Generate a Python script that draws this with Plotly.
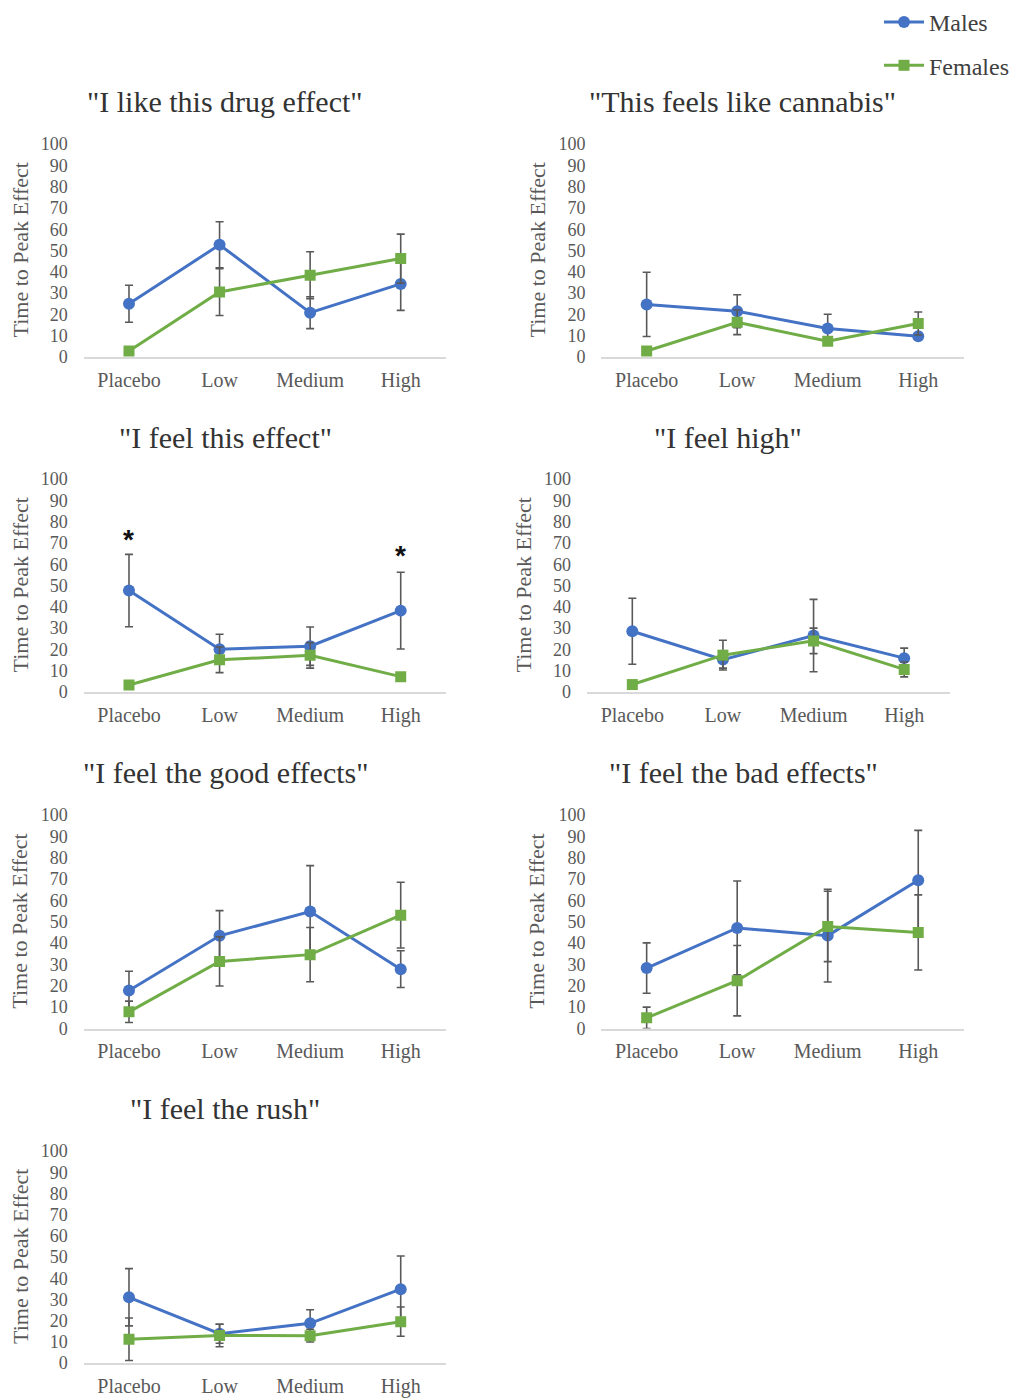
import plotly.graph_objects as go

# Dose conditions shared by every panel
categories = ["Placebo", "Low", "Medium", "High"]
y_ticks = list(range(0, 101, 10))

# Time to peak effect (means) and error bar half-widths, per subjective item
like_drug_m = [25.0, 52.7, 20.8, 34.3]
like_drug_m_err = [8.7, 10.8, 7.5, 12.4]
like_drug_f = [2.8, 30.5, 38.4, 46.2]
like_drug_f_err = [0.0, 11.0, 11.0, 11.5]

cannabis_m = [24.7, 21.5, 13.4, 9.7]
cannabis_m_err = [15.1, 7.7, 6.7, 0.0]
cannabis_f = [2.8, 16.3, 7.4, 15.7]
cannabis_f_err = [0.0, 5.8, 0.0, 5.4]

this_effect_m = [47.6, 20.1, 21.5, 38.2]
this_effect_m_err = [17.0, 7.0, 9.0, 18.0]
this_effect_f = [3.3, 15.1, 17.2, 7.2]
this_effect_f_err = [0.0, 6.0, 6.0, 0.0]

high_m = [28.5, 15.2, 26.5, 15.9]
high_m_err = [15.5, 4.0, 17.0, 4.7]
high_f = [3.5, 17.3, 24.0, 10.6]
high_f_err = [0.0, 7.0, 6.0, 3.5]

good_m = [17.8, 43.4, 54.8, 27.8]
good_m_err = [9.0, 11.8, 21.5, 8.6]
good_f = [7.8, 31.4, 34.6, 53.1]
good_f_err = [5.0, 11.5, 12.7, 15.4]

bad_m = [28.3, 47.1, 43.5, 69.4]
bad_m_err = [11.8, 22.0, 21.7, 23.4]
bad_f = [5.0, 22.4, 47.8, 45.0]
bad_f_err = [5.0, 16.5, 16.5, 17.6]

rush_m = [31.0, 13.8, 18.7, 34.8]
rush_m_err = [13.5, 4.5, 6.4, 15.7]
rush_f = [11.2, 13.0, 12.9, 19.5]
rush_f_err = [10.0, 5.3, 3.0, 6.9]

titles = ['"I like this drug effect"', '"This feels like cannabis"',
          '"I feel this effect"', '"I feel high"',
          '"I feel the good effects"', '"I feel the bad effects"',
          '"I feel the rush"']

# Significant sex differences, marked with an asterisk (panel 3)
sig_categories = ["Placebo", "High"]
sig_heights = [71.5, 64.0]

W, H = 1014, 1399

# Panel placement in pixels: x-axis span, y pixel of 0 and of 100, y-title x
panels = [
    dict(title=titles[0], m=like_drug_m, me=like_drug_m_err, f=like_drug_f, fe=like_drug_f_err,
         x0=83.7, x1=446.0, y0=357, y100=144, ytx=20, tx=225, ty=101),
    dict(title=titles[1], m=cannabis_m, me=cannabis_m_err, f=cannabis_f, fe=cannabis_f_err,
         x0=601.4, x1=963.5, y0=357, y100=144, ytx=537, tx=742, ty=101),
    dict(title=titles[2], m=this_effect_m, me=this_effect_m_err, f=this_effect_f, fe=this_effect_f_err,
         x0=83.7, x1=446.0, y0=692, y100=479, ytx=20, tx=225, ty=437),
    dict(title=titles[3], m=high_m, me=high_m_err, f=high_f, fe=high_f_err,
         x0=587.0, x1=949.5, y0=692, y100=479, ytx=523, tx=728, ty=437),
    dict(title=titles[4], m=good_m, me=good_m_err, f=good_f, fe=good_f_err,
         x0=83.7, x1=446.0, y0=1028.5, y100=815, ytx=20, tx=225, ty=773),
    dict(title=titles[5], m=bad_m, me=bad_m_err, f=bad_f, fe=bad_f_err,
         x0=601.4, x1=963.5, y0=1028.5, y100=815, ytx=537, tx=743, ty=773),
    dict(title=titles[6], m=rush_m, me=rush_m_err, f=rush_f, fe=rush_f_err,
         x0=83.7, x1=446.0, y0=1363, y100=1151, ytx=20, tx=225, ty=1108),
]

BLUE = "#4472C4"
GREEN = "#70AD47"
ERR = "#595959"
SERIF = "Liberation Serif, Times New Roman, serif"
SANS = "Liberation Sans, Arial, sans-serif"
TICK_COLOR = "#595959"
TITLE_COLOR = "#333333"

fig = go.Figure()
annotations = []
layout_axes = {}

for i, p in enumerate(panels, start=1):
    xa = "x" if i == 1 else f"x{i}"
    ya = "y" if i == 1 else f"y{i}"
    show_leg = i == 1
    fig.add_trace(go.Scatter(
        x=categories, y=p["m"], name="Males", legendgroup="m", showlegend=show_leg,
        mode="lines+markers", xaxis=xa, yaxis=ya,
        line=dict(color=BLUE, width=3),
        marker=dict(symbol="circle", size=12, color=BLUE),
        error_y=dict(type="data", array=p["me"], visible=True, color=ERR,
                     thickness=1.6, width=4),
    ))
    fig.add_trace(go.Scatter(
        x=categories, y=p["f"], name="Females", legendgroup="f", showlegend=show_leg,
        mode="lines+markers", xaxis=xa, yaxis=ya,
        line=dict(color=GREEN, width=3),
        marker=dict(symbol="square", size=11, color=GREEN),
        error_y=dict(type="data", array=p["fe"], visible=True, color=ERR,
                     thickness=1.6, width=4),
    ))

    key = "" if i == 1 else str(i)
    layout_axes[f"xaxis{key}"] = dict(
        domain=[p["x0"] / W, p["x1"] / W], anchor=ya, type="category",
        range=[-0.5, 3.5], showline=True, linecolor="#d9d9d9", linewidth=1.5,
        showgrid=False, zeroline=False, ticks="", ticklabelstandoff=4,
        automargin=False,
        tickfont=dict(family=SERIF, size=20, color=TICK_COLOR),
    )
    layout_axes[f"yaxis{key}"] = dict(
        domain=[1 - p["y0"] / H, 1 - p["y100"] / H], anchor=xa,
        range=[0, 100], tickvals=y_ticks, showline=False, showgrid=False,
        zeroline=False, ticks="", ticklabelstandoff=15, automargin=False,
        tickfont=dict(family=SERIF, size=18, color=TICK_COLOR),
    )

    annotations.append(dict(
        text=p["title"], xref="paper", yref="paper",
        x=p["tx"] / W, y=1 - p["ty"] / H, xanchor="center", yanchor="middle",
        showarrow=False, font=dict(family=SERIF, size=30, color=TITLE_COLOR),
    ))
    annotations.append(dict(
        text="Time to Peak Effect", textangle=-90, xref="paper", yref="paper",
        x=p["ytx"] / W, y=1 - (p["y0"] + p["y100"]) / 2 / H,
        xanchor="center", yanchor="middle", showarrow=False,
        font=dict(family=SERIF, size=22, color=TICK_COLOR),
    ))

for cat, h in zip(sig_categories, sig_heights):
    annotations.append(dict(
        text="<b>*</b>", xref="x3", yref="y3", x=cat, y=h, showarrow=False,
        font=dict(family=SANS, size=28, color="#111111"),
    ))

fig.update_layout(
    width=W, height=H,
    margin=dict(l=0, r=0, t=0, b=0, autoexpand=False),
    paper_bgcolor="white", plot_bgcolor="white",
    annotations=annotations,
    legend=dict(
        x=1.0, y=1.0, xanchor="right", yanchor="top",
        font=dict(family=SERIF, size=24, color="#404040"),
        bgcolor="rgba(0,0,0,0)", tracegroupgap=9, itemwidth=40,
    ),
    **layout_axes,
)

fig.write_html("out.html")
